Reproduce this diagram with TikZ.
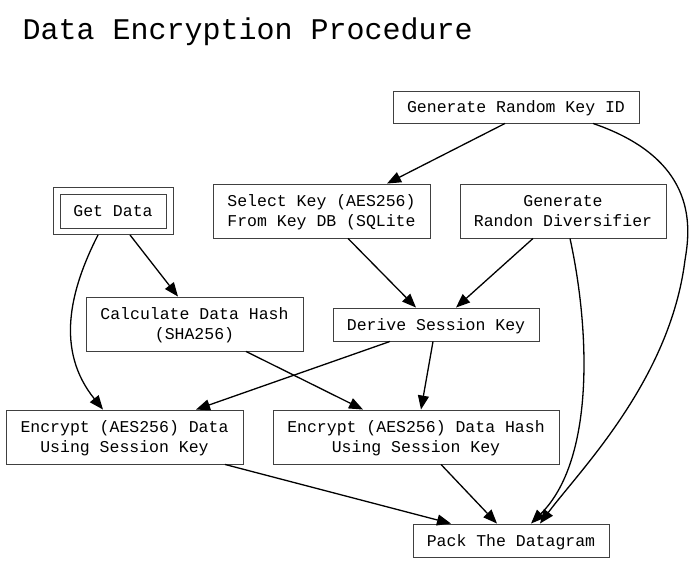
\documentclass[tikz,border=0pt]{standalone}
\usepackage{fontspec}
\setmainfont{Liberation Mono}
\usetikzlibrary{arrows.meta}
\begin{document}
\begin{tikzpicture}[x=1pt,y=-1pt,
  box/.style={draw=black!75, line width=0.9pt, inner sep=0pt, align=center,
    font=\fontsize{16.5}{20}\selectfont, text depth=0pt},
  conn/.style={line width=1.3pt, -{Triangle[length=14pt,width=11pt]}}]
\useasboundingbox (0,0) rectangle (695,565);
\node[anchor=west, font=\fontsize{30}{34}\selectfont] (title) at (19,32) {Data Encryption Procedure};
\node[box, minimum width=246, minimum height=32] (rk) at (516,107) {Generate Random Key ID};
\node[draw=black!75, line width=0.9pt, minimum width=120, minimum height=47, inner sep=0pt] (gdo) at (113,211) {};
\node[box, minimum width=106, minimum height=34] (gd) at (113,211) {Get Data};
\node[box, minimum width=217, minimum height=54] (sk) at (321.5,211) {Select Key (AES256)\\From Key DB (SQLite};
\node[box, minimum width=206, minimum height=54] (dv) at (563,211) {Generate\\Randon Diversifier};
\node[box, minimum width=217, minimum height=54] (ch) at (194.5,324) {Calculate Data Hash\\(SHA256)};
\node[box, minimum width=206, minimum height=33] (ds) at (436,324.5) {Derive Session Key};
\node[box, minimum width=237, minimum height=54] (ed) at (124.5,437) {Encrypt (AES256) Data\\Using Session Key};
\node[box, minimum width=286, minimum height=54] (eh) at (416,437) {Encrypt (AES256) Data Hash\\Using Session Key};
\node[box, minimum width=196, minimum height=33] (pk) at (511,540.5) {Pack The Datagram};
% connectors
\draw[conn] (rk.south -| 505,0) -- (sk.north -| 387,0);
\draw[conn] (rk.south -| 593,0) .. controls (700,160) and (690,230) .. (685,260) .. controls (670,380) and (580,470) .. (pk.north -| 540,0);
\draw[conn] (gdo.south -| 98,0) .. controls (70,290) and (55,350) .. (ed.north -| 103,0);
\draw[conn] (gdo.south -| 130,0) -- (ch.north -| 178,0);
\draw[conn] (sk.south -| 348,0) -- (ds.north -| 416,0);
\draw[conn] (dv.south -| 533,0) -- (ds.north -| 456,0);
\draw[conn] (dv.south -| 570,0) .. controls (590,330) and (595,460) .. (pk.north -| 531,0);
\draw[conn] (ch.south -| 246,0) -- (eh.north -| 363,0);
\draw[conn] (ds.south -| 390,0) -- (ed.north -| 196,0);
\draw[conn] (ds.south -| 433,0) -- (eh.north -| 421,0);
\draw[conn] (ed.south -| 225,0) -- (pk.north -| 451,0);
\draw[conn] (eh.south -| 441,0) -- (pk.north -| 497,0);
\end{tikzpicture}
\end{document}
